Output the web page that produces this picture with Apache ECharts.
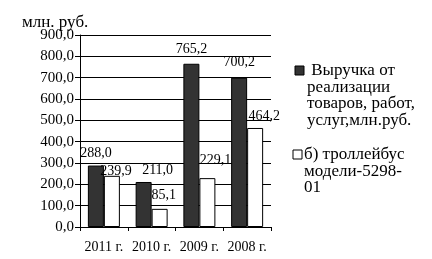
<!DOCTYPE html>
<html><head><meta charset="utf-8">
<script src="https://cdn.jsdelivr.net/npm/echarts@6/dist/echarts.min.js"></script>
<style>html,body{margin:0;padding:0;background:#fff}#c{width:432px;height:259px}</style>
</head><body><div id="c"></div>
<script>
const categories = ['2011 г.', '2010 г.', '2009 г.', '2008 г.'];
const revenue = [288.0, 211.0, 765.2, 700.2];
const trolley = [239.9, 85.1, 229.1, 464.2];
const seriesNames = ['Выручка от\nреализации\nтоваров, работ,\nуслуг,млн.руб.', 'б) троллейбус\nмодели-5298-\n01'];
const yTicks = [0, 900, 100];
const unitLabel = 'млн. руб.';

// label placement tweaks (style only)
const revenueLabelShift = [[0, 0], [14, 0], [0, -2], [0, -3]];
const trolleyLabelShift = [[4, 8], [4, -2], [8, -6], [9, 0]];

const F = '"Liberation Serif", "Times New Roman", serif';
const fmt = v => v.toFixed(1).replace('.', ',');
const withLabels = (vals, shifts) => vals.map((v, i) => ({value: v, label: {offset: shifts[i]}}));
const chart = echarts.init(document.getElementById('c'), null, {renderer: 'canvas'});
const lbl = {show: true, position: 'top', distance: 5, color: '#000', fontSize: 14, fontFamily: F, formatter: p => fmt(p.value)};
chart.setOption({
  animation: false,
  textStyle: {fontFamily: F},
  grid: {left: 80, right: 161, top: 35, bottom: 32},
  graphic: [
    {type: 'text', left: 22, top: 14, style: {text: unitLabel, font: '17px ' + F, fill: '#000'}},
    {type: 'rect', shape: {x: 295, y: 66, width: 9, height: 9}, style: {fill: '#333', stroke: '#000', lineWidth: 1}},
    {type: 'text', left: 307, top: 62, style: {text: ' ' + seriesNames[0], font: '17px ' + F, lineHeight: 16.6, fill: '#000'}},
    {type: 'rect', shape: {x: 293, y: 150, width: 9, height: 9}, style: {fill: '#fff', stroke: '#000', lineWidth: 1}},
    {type: 'text', left: 304, top: 146, style: {text: seriesNames[1], font: '17px ' + F, lineHeight: 16.6, fill: '#000'}}
  ],
  xAxis: {
    type: 'category', data: categories,
    axisLine: {lineStyle: {color: '#000', width: 1}},
    axisTick: {show: true, length: 4, lineStyle: {color: '#000'}},
    axisLabel: {color: '#000', fontSize: 14, fontFamily: F, margin: 13, interval: 0}
  },
  yAxis: {
    type: 'value', min: yTicks[0], max: yTicks[1], interval: yTicks[2],
    axisLine: {show: true, lineStyle: {color: '#000'}},
    axisTick: {show: true, length: 5, lineStyle: {color: '#000'}},
    splitLine: {lineStyle: {color: '#000', width: 1}},
    axisLabel: {color: '#000', fontSize: 15, fontFamily: F, margin: 6, formatter: v => fmt(v)}
  },
  series: [
    {name: 'rev', type: 'bar', data: withLabels(revenue, revenueLabelShift), barWidth: 16, barGap: '0%',
     itemStyle: {color: '#333', borderColor: '#000', borderWidth: 1}, label: lbl},
    {name: 'tr', type: 'bar', data: withLabels(trolley, trolleyLabelShift), barWidth: 16, barGap: '0%',
     itemStyle: {color: '#fff', borderColor: '#000', borderWidth: 1}, label: lbl}
  ]
});
</script></body></html>
